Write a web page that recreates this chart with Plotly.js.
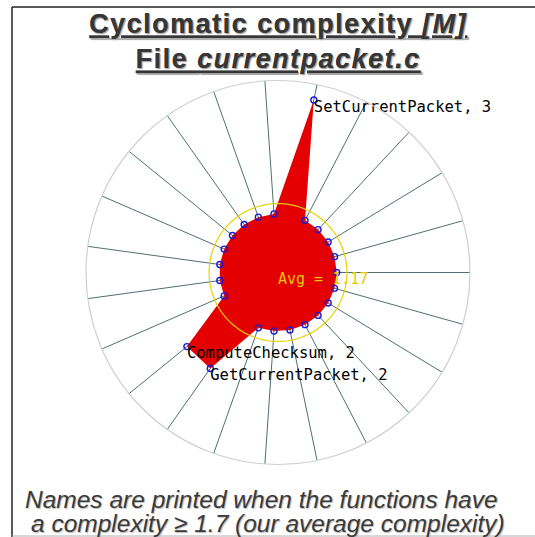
<!DOCTYPE html>
<html>
<head>
<meta charset="utf-8">
<script src="https://cdn.plot.ly/plotly-3.0.1.min.js"></script>
<style>
  html, body { margin: 0; padding: 0; background: #fff; }
  #chart { width: 535px; height: 537px; }
  .gtitle { letter-spacing: 1.5px; }
</style>
</head>
<body>
<div id="chart"></div>
<script>
// ---- data ----
const functionNames = [
  '', '', '', '', '', 'SetCurrentPacket', '', '', '', '', '', '', '', '',
  'ComputeChecksum', 'GetCurrentPacket', '', '', '', '', '', '', ''
];
const complexity = [
  1, 1, 1, 1, 1, 3, 1, 1, 1, 1, 1, 1, 1, 1,
  2, 2, 1, 1, 1, 1, 1, 1, 1
];
const labelThreshold = 1.7;
const titleLines = ['Cyclomatic complexity <i>[M]</i>', 'File <i>currentpacket.c</i>'];
const noteLines = ['Names are printed when the functions have', 'a complexity \u2265 1.7 (our average complexity)'];

// ---- derived ----
const N = complexity.length;
const theta = complexity.map((_, i) => i * 360 / N);
const avg = complexity.reduce((a, b) => a + b, 0) / N;
const labels = complexity.map((v, i) => v >= labelThreshold ? functionNames[i] + ', ' + v : '');
const avgTheta = [];
for (let a = 0; a <= 360; a += 2) avgTheta.push(a);
const avgR = avgTheta.map(() => avg);

const mono = 'DejaVu Sans Mono, monospace';
const sans = 'Liberation Sans, Arial, sans-serif';

const traces = [
  {
    type: 'scatterpolar',
    r: complexity,
    theta: theta,
    mode: 'lines+markers',
    fill: 'toself',
    fillcolor: '#e40000',
    line: { color: '#e40000', width: 0 },
    marker: { symbol: 'circle-open', size: 6, color: '#1a1ad2', line: { width: 1.4 } },
    hoverinfo: 'skip'
  },
  {
    type: 'scatterpolar',
    r: avgR,
    theta: avgTheta,
    mode: 'lines',
    line: { color: '#e8d200', width: 1.2 },
    hoverinfo: 'skip'
  },
  {
    type: 'scatterpolar',
    r: [0],
    theta: [0],
    mode: 'text',
    text: ['Avg = ' + avg.toFixed(2)],
    textposition: 'bottom right',
    textfont: { family: mono, size: 15, color: '#e8c800' },
    hoverinfo: 'skip'
  },
  {
    type: 'scatterpolar',
    r: complexity,
    theta: theta,
    mode: 'text',
    text: labels,
    textposition: 'bottom right',
    textfont: { family: mono, size: 15.5, color: '#000000' },
    hoverinfo: 'skip'
  }
];

const layout = {
  width: 535,
  height: 537,
  margin: { l: 0, r: 0, t: 0, b: 0 },
  paper_bgcolor: '#ffffff',
  showlegend: false,
  title: {
    text: '<u>' + titleLines[0] + '</u><br><u>' + titleLines[1] + '</u>',
    font: { family: sans, size: 27, weight: 'bold', color: '#363636', shadow: '1px 1px 1px #aaaaaa' },
    x: 0.52, xanchor: 'center', xref: 'paper',
    y: 0.938, yanchor: 'top', yref: 'container'
  },
  polar: {
    domain: { x: [86 / 535, 470 / 535], y: [72.5 / 537, 456.5 / 537] },
    bgcolor: '#ffffff',
    angularaxis: {
      rotation: 0,
      direction: 'counterclockwise',
      tickmode: 'array',
      tickvals: theta,
      showticklabels: false,
      ticks: '',
      showgrid: true,
      gridcolor: '#4f7070',
      gridwidth: 1,
      showline: true,
      linecolor: '#cfcfcf',
      linewidth: 1.2
    },
    radialaxis: {
      range: [0, 3.27],
      visible: false,
      showgrid: false
    }
  },
  annotations: [
    {
      text: '<i>' + noteLines[0] + '</i>',
      xref: 'paper', yref: 'paper', x: 23 / 535, y: 0.070,
      xanchor: 'left', yanchor: 'middle', showarrow: false,
      font: { family: sans, size: 24.5, color: '#3a3a3a', shadow: '1px 1px 1px #bbbbbb' }
    },
    {
      text: '<i>' + noteLines[1] + '</i>',
      xref: 'paper', yref: 'paper', x: 29 / 535, y: 0.026,
      xanchor: 'left', yanchor: 'middle', showarrow: false,
      font: { family: sans, size: 24.5, color: '#3a3a3a', shadow: '1px 1px 1px #bbbbbb' }
    }
  ],
  shapes: [
    { type: 'line', xref: 'paper', yref: 'paper', x0: 12 / 535, x1: 1, y0: 1 - 7 / 537, y1: 1 - 7 / 537,
      line: { color: '#222222', width: 1.5 } },
    { type: 'line', xref: 'paper', yref: 'paper', x0: 12 / 535, x1: 12 / 535, y0: 0, y1: 1 - 7 / 537,
      line: { color: '#222222', width: 1.5 } },
    { type: 'line', xref: 'paper', yref: 'paper', x0: 12 / 535, x1: 1, y0: 1 / 537, y1: 1 / 537,
      line: { color: '#b0b0b0', width: 1 } }
  ]
};

Plotly.newPlot('chart', traces, layout, { staticPlot: true, displayModeBar: false });
</script>
</body>
</html>
